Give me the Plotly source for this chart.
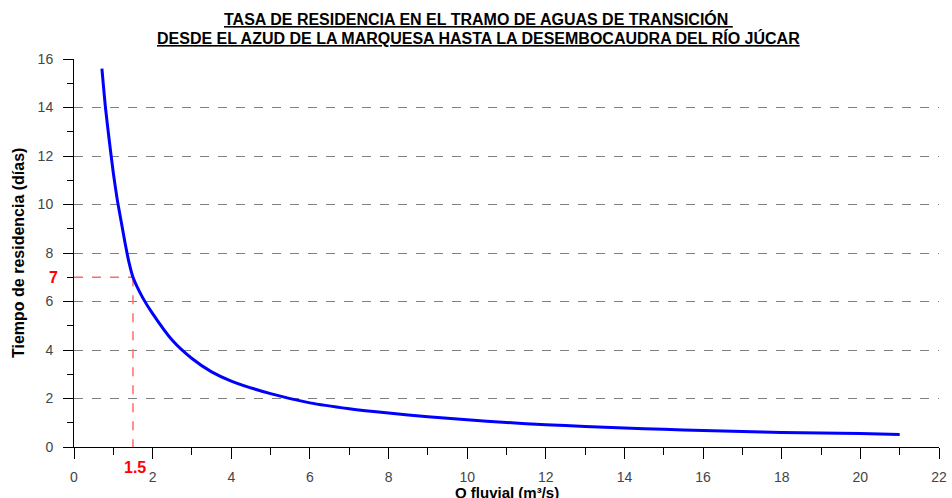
import plotly.graph_objects as go

# Data
caudal_q = [0.71, 0.8, 0.9, 1.0, 1.1, 1.2, 1.3, 1.4, 1.5, 1.75, 2.0, 2.5, 3.0, 3.5, 4.0,
            5.0, 6.0, 7.0, 8.0, 9.0, 10.0, 11.0, 12.0, 13.0, 14.0, 15.0, 16.0, 17.0, 18.0,
            19.0, 20.0, 21.0]
tiempo_t = [15.6, 14.0, 12.6, 11.3, 10.2, 9.3, 8.4, 7.6, 7.0, 6.15, 5.5, 4.4, 3.65, 3.1, 2.72,
            2.2, 1.82, 1.58, 1.4, 1.25, 1.12, 1.01, 0.92, 0.85, 0.78, 0.73, 0.68, 0.64, 0.6,
            0.58, 0.56, 0.52]
ref_q = 1.5
ref_t = 7
x_ticks = [0, 2, 4, 6, 8, 10, 12, 14, 16, 18, 20, 22]
y_ticks = [0, 2, 4, 6, 8, 10, 12, 14, 16]

title_l1 = "TASA DE RESIDENCIA EN EL TRAMO DE AGUAS DE TRANSICIÓN "
title_l2 = "DESDE EL AZUD DE LA MARQUESA HASTA LA DESEMBOCAUDRA DEL RÍO JÚCAR"
x_title = "Q fluvial (m³/s)"
y_title = "Tiempo de residencia (días)"

FONT = "Liberation Sans, Arial, sans-serif"

fig = go.Figure()

# reference dashed lines
fig.add_trace(go.Scatter(x=[0, ref_q], y=[ref_t, ref_t], mode="lines",
                         line=dict(color="#FF6A6A", width=1.5, dash="dash"),
                         hoverinfo="skip", showlegend=False))
fig.add_trace(go.Scatter(x=[ref_q, ref_q], y=[ref_t, 0], mode="lines",
                         line=dict(color="#FF6A6A", width=1.5, dash="dash"),
                         hoverinfo="skip", showlegend=False))

fig.add_trace(go.Scatter(x=caudal_q, y=tiempo_t, mode="lines",
                         line=dict(color="#0000FF", width=3, shape="spline", smoothing=0.6),
                         showlegend=False))

fig.update_layout(
    width=952, height=498,
    margin=dict(l=74, r=13, t=59, b=51),
    paper_bgcolor="white", plot_bgcolor="white",
    font=dict(family=FONT, color="#333333"),
    xaxis=dict(range=[0, 22], tickvals=x_ticks, ticks="outside", ticklen=11,
               tickcolor="black", tickwidth=1, showline=True, linecolor="black",
               linewidth=1, showgrid=False, zeroline=False, automargin=False,
               tickfont=dict(size=14, color="#444444"),
               ticklabelstandoff=6,
               minor=dict(dtick=1, ticks="outside", ticklen=7, tickcolor="black",
                          showgrid=False)),
    yaxis=dict(range=[0, 16], tickvals=y_ticks, ticks="outside", ticklen=10,
               tickcolor="black", tickwidth=1, showline=True, linecolor="black",
               linewidth=1, showgrid=True, gridcolor="#808080", griddash="dash",
               gridwidth=1, zeroline=False, automargin=False,
               tickfont=dict(size=14, color="#444444"),
               ticklabelstandoff=7,
               minor=dict(dtick=1, ticks="outside", ticklen=6, tickcolor="black",
                          showgrid=False)),
)

title_font = dict(family=FONT, size=16, color="black", weight="bold")
fig.add_annotation(text="<u>" + title_l1 + "</u>", xref="paper", yref="paper",
                   x=(478 - 74) / (939 - 74), y=1, xanchor="center", yanchor="middle",
                   yshift=40, showarrow=False, font=title_font)
fig.add_annotation(text="<u>" + title_l2 + "</u>", xref="paper", yref="paper",
                   x=(478 - 74) / (939 - 74), y=1, xanchor="center", yanchor="middle",
                   yshift=21, showarrow=False, font=title_font)

fig.add_annotation(text=y_title, xref="paper", yref="paper", x=0, y=0.5,
                   xanchor="center", yanchor="middle", xshift=-56, textangle=-90,
                   showarrow=False, font=dict(family=FONT, size=16, color="black", weight="bold"))
fig.add_annotation(text=x_title, xref="paper", yref="paper", x=0.5, y=0,
                   xanchor="center", yanchor="top", yshift=-36, borderpad=0,
                   showarrow=False, font=dict(family=FONT, size=15, color="black", weight="bold"))
fig.add_annotation(text=str(ref_t), xref="paper", yref="y", x=0, y=ref_t,
                   xanchor="right", yanchor="middle", xshift=-14,
                   showarrow=False, font=dict(family=FONT, size=16, color="#FF0000", weight="bold"))
fig.add_annotation(text=str(ref_q), xref="x", yref="paper", x=ref_q, y=0,
                   xanchor="center", yanchor="top", yshift=-10, xshift=2,
                   showarrow=False, font=dict(family=FONT, size=16, color="#FF0000", weight="bold"))

fig.write_html("out.html", config={"displayModeBar": False},
               post_script="document.body.style.margin='0';")
